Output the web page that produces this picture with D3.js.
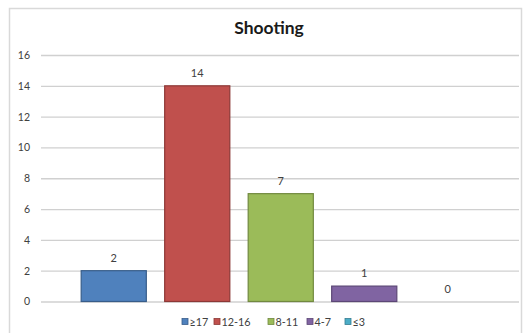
<!DOCTYPE html>
<html>
<head>
<meta charset="utf-8">
<script src="https://cdn.jsdelivr.net/npm/d3@7"></script>
<style>
  html, body { margin: 0; padding: 0; background: #ffffff; }
  svg { display: block; }
</style>
</head>
<body>
<svg id="chart" width="526" height="333"></svg>
<script>
// Shooting: number of people per score band
const categories = ["≥17", "12-16", "8-11", "4-7", "≤3"];
const values = [2, 14, 7, 1, 0];
const yTicks = [0, 2, 4, 6, 8, 10, 12, 14, 16];
const fills = ["#4F81BD", "#C0504D", "#9BBB59", "#8064A2", "#4BACC6"];
const strokes = ["#385D8A", "#8C3836", "#71893F", "#5C4776", "#357D91"];

const svg = d3.select("#chart");
const font = "Lato, 'Open Sans', sans-serif";

// chart frame
svg.append("rect")
  .attr("x", 9.5).attr("y", 8.5)
  .attr("width", 512).attr("height", 340)
  .attr("fill", "#ffffff")
  .attr("stroke", "#d9d9d9").attr("stroke-width", 1.5);

const plot = { left: 41, right: 519, top: 55, bottom: 301.5 };

const y = d3.scaleLinear().domain([0, 16]).range([plot.bottom, plot.top]);
const x = d3.scaleBand().domain(categories).range([72, 489.5]).paddingInner(0.22).paddingOuter(0.11);

// title
svg.append("text")
  .attr("x", 269).attr("y", 34)
  .attr("text-anchor", "middle")
  .attr("font-family", font).attr("font-weight", "bold")
  .attr("font-size", 17.5).attr("fill", "#1a1a1a")
  .text("Shooting");

// horizontal gridlines + y labels
const yAxis = d3.axisLeft(y).tickValues(yTicks).tickSize(-(plot.right - plot.left)).tickPadding(11);
const gy = svg.append("g").attr("transform", `translate(${plot.left},0)`).call(yAxis);
gy.select(".domain").remove();
gy.selectAll(".tick line").attr("stroke", "#d0d0d0").attr("stroke-width", 1.3);
gy.selectAll(".tick text")
  .attr("font-family", font).attr("font-size", 10.5).attr("fill", "#404040");

// bars
svg.append("g").selectAll("rect")
  .data(values)
  .join("rect")
  .attr("x", (d, i) => x(categories[i]))
  .attr("y", d => y(d))
  .attr("width", x.bandwidth())
  .attr("height", d => y(0) - y(d))
  .attr("fill", (d, i) => fills[i])
  .attr("stroke", (d, i) => d > 0 ? strokes[i] : "none")
  .attr("stroke-width", 1.2);

// value labels
svg.append("g").selectAll("text")
  .data(values)
  .join("text")
  .attr("x", (d, i) => x(categories[i]) + x.bandwidth() / 2)
  .attr("y", d => y(d) - 9)
  .attr("text-anchor", "middle")
  .attr("font-family", font).attr("font-size", 11).attr("fill", "#404040")
  .text(d => d);

// legend
const legendX = [182, 214, 268, 307, 345];
const legend = svg.append("g").selectAll("g")
  .data(categories)
  .join("g")
  .attr("transform", (d, i) => `translate(${legendX[i]},322)`);
legend.append("rect")
  .attr("x", 0).attr("y", -3.5)
  .attr("width", 6).attr("height", 6)
  .attr("fill", (d, i) => fills[i])
  .attr("stroke", (d, i) => strokes[i]).attr("stroke-width", 0.8);
legend.append("text")
  .attr("x", 7.5).attr("y", 4)
  .attr("font-family", font).attr("font-size", 10.8).attr("fill", "#404040")
  .text(d => d);
</script>
</body>
</html>
